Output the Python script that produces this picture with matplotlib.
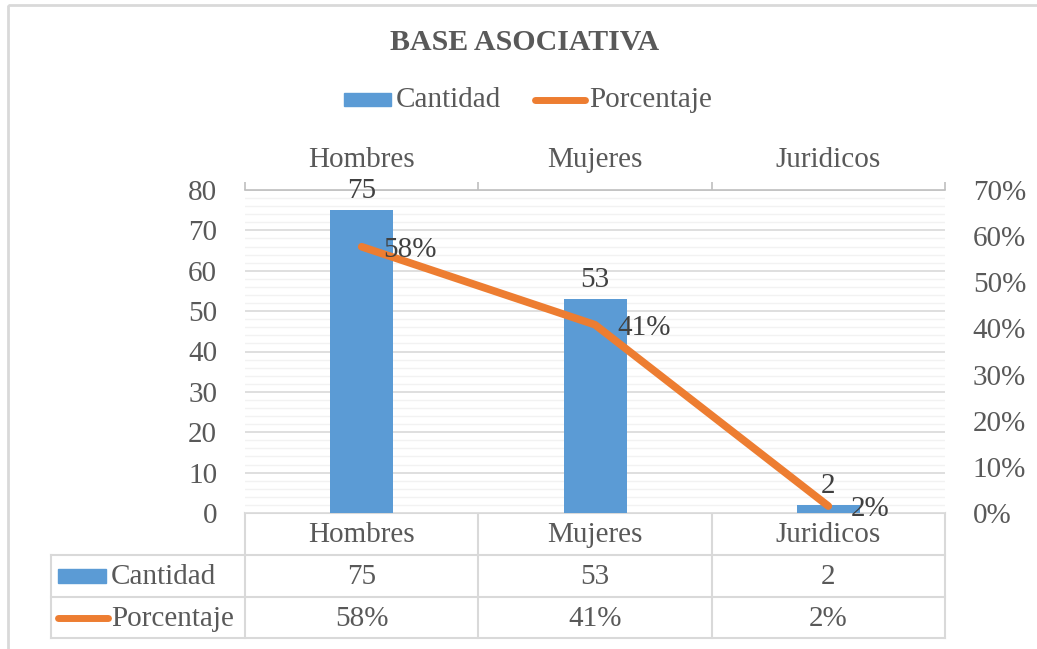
import matplotlib.pyplot as plt
from matplotlib.lines import Line2D
from matplotlib.patches import Rectangle

categorias = ["Hombres", "Mujeres", "Juridicos"]
cantidad = [75, 53, 2]
porcentaje = [0.577, 0.408, 0.015]
etiquetas_pct = ["58%", "41%", "2%"]

AZUL = "#5B9BD5"
NARANJA = "#ED7D31"
TEXTO = "#595959"
GRIS = "#D9D9D9"

plt.rcParams["font.family"] = ["Liberation Serif", "DejaVu Serif"]
plt.rcParams["text.color"] = TEXTO

W, H = 1037, 649
fig = plt.figure(figsize=(W / 100, H / 100), dpi=100)

# area de trazado en pixeles
x0, x1, y0, y1 = 245, 945, 190, 513
ax = fig.add_axes([x0 / W, 1 - y1 / H, (x1 - x0) / W, (y1 - y0) / H])
x = list(range(len(categorias)))

ax.set_xlim(-0.5, len(categorias) - 0.5)
ax.set_ylim(0, 80)
ax.set_yticks(range(0, 81, 10))
ax.set_yticks(range(0, 81, 2), minor=True)
ax.grid(axis="y", which="major", color=GRIS, lw=1.2, zorder=0)
ax.grid(axis="y", which="minor", color="#F2F2F2", lw=1.0, zorder=0)
ax.set_axisbelow(True)
for s in ["left", "right", "bottom"]:
    ax.spines[s].set_visible(False)
ax.spines["top"].set_color("#BFBFBF")
ax.spines["top"].set_linewidth(1.2)
ax.tick_params(axis="y", which="both", length=0, labelsize=21, labelcolor=TEXTO, pad=20)

# eje de categorias arriba
ax.xaxis.tick_top()
ax.set_xticks([i - 0.5 for i in range(len(categorias) + 1)])
ax.set_xticklabels([])
ax.set_xticks(x, minor=True)
ax.set_xticklabels(categorias, minor=True)
ax.tick_params(axis="x", which="major", direction="out", length=6, color="#BFBFBF", width=1.2)
ax.tick_params(axis="x", which="minor", length=0, labelsize=21, labelcolor=TEXTO, pad=12)

ax.bar(x, cantidad, width=0.27, color=AZUL, zorder=2)
for i, v in enumerate(cantidad):
    ax.annotate(str(v), (i, v), xytext=(0, 19), textcoords="offset pixels",
                ha="center", va="center", fontsize=21, color="#404040")

ax2 = ax.twinx()
ax2.set_ylim(0, 0.7)
ax2.set_yticks([i / 10 for i in range(8)])
ax2.set_yticklabels([f"{i * 10}%" for i in range(8)])
ax2.tick_params(axis="y", length=0, labelsize=21, labelcolor=TEXTO, pad=20)
for s in ax2.spines.values():
    s.set_visible(False)
ax2.plot(x, porcentaje, color=NARANJA, lw=5.5, solid_capstyle="round",
         solid_joinstyle="round", zorder=3)
for i, v in enumerate(porcentaje):
    ax2.annotate(etiquetas_pct[i], (i, v), xytext=(22, -3), textcoords="offset pixels",
                 ha="left", va="center", fontsize=21, color="#404040")

# capa en pixeles para titulo, leyenda y tabla de datos
ov = fig.add_axes([0, 0, 1, 1], zorder=-1)
ov.set_xlim(0, W)
ov.set_ylim(H, 0)
ov.axis("off")
ov.add_patch(Rectangle((8, 5), W, H, fill=False, ec=GRIS, lw=2))

ov.text(525, 42, "BASE ASOCIATIVA", ha="center", va="center", fontsize=21.5,
        fontweight="bold", color=TEXTO)

# leyenda
ov.add_patch(Rectangle((344, 93), 47, 13, color=AZUL))
ov.text(396, 100, "Cantidad", ha="left", va="center", fontsize=21)
ov.add_line(Line2D([535, 585], [100, 100], color=NARANJA, lw=5, solid_capstyle="round"))
ov.text(589, 100, "Porcentaje", ha="left", va="center", fontsize=21)

# tabla de datos
colw = (x1 - x0) / len(categorias)
bordes = [x0 + i * colw for i in range(len(categorias) + 1)]
filas = [513, 555, 597, 638]
lc = GRIS
ov.add_line(Line2D([x0, x1], [filas[0], filas[0]], color=lc, lw=1.5))
for yy in filas[1:]:
    ov.add_line(Line2D([51, x1], [yy, yy], color=lc, lw=1.5))
ov.add_line(Line2D([51, 51], [filas[1], filas[3]], color=lc, lw=1.5))
for xx in bordes:
    ov.add_line(Line2D([xx, xx], [filas[0], filas[3]], color=lc, lw=1.5))

for i, c in enumerate(categorias):
    cx = x0 + (i + 0.5) * colw
    ov.text(cx, 535, c, ha="center", va="center", fontsize=21)
    ov.text(cx, 577, str(cantidad[i]), ha="center", va="center", fontsize=21)
    ov.text(cx, 619, etiquetas_pct[i], ha="center", va="center", fontsize=21)

ov.add_patch(Rectangle((58, 569), 48, 14, color=AZUL))
ov.text(111, 577, "Cantidad", ha="left", va="center", fontsize=21)
ov.add_line(Line2D([58, 108], [618, 618], color=NARANJA, lw=5, solid_capstyle="round"))
ov.text(111, 619, "Porcentaje", ha="left", va="center", fontsize=21)

fig.savefig("out.png", dpi=100)
